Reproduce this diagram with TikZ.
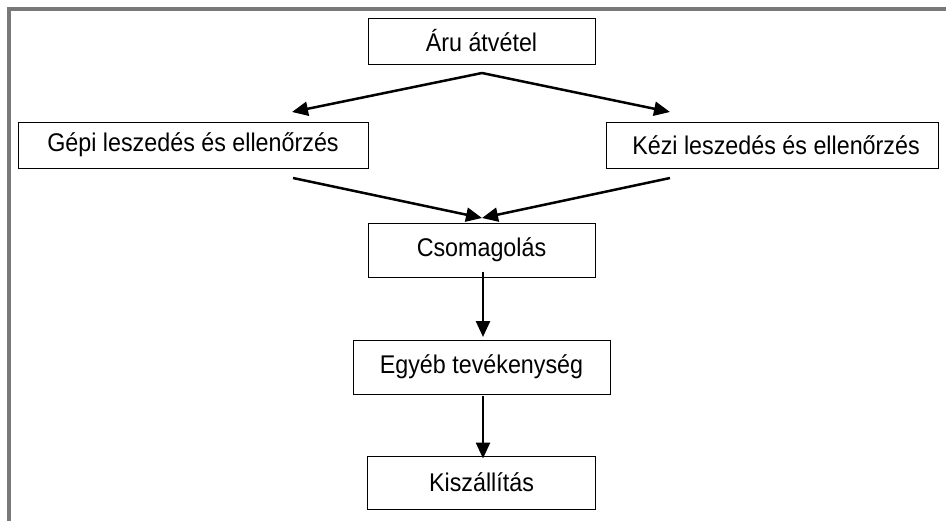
\documentclass[tikz,border=0pt]{standalone}
\usepackage{fontspec}
\usepackage{graphicx}
\setmainfont{Liberation Sans}
\usetikzlibrary{arrows.meta}
\newcommand\boxtxt[1]{\scalebox{0.91}[1]{#1}}
\begin{document}
\begin{tikzpicture}[x=1pt,y=-1pt,
  stepbox/.style={draw=black,line width=1pt,fill=white,inner sep=0pt,anchor=center,
    font=\fontsize{25.6}{30}\selectfont},
  flow/.style={line width=2.5pt,-{Triangle[length=16pt,width=14pt]}},
  frameline/.style={draw=gray!95!black,line width=4pt}]
\useasboundingbox (0,0) rectangle (946,520);
\fill[white] (0,0) rectangle (946,520);
\draw[frameline] (9,522) -- (9,9) -- (948,9);

\node[stepbox,minimum width=227pt,minimum height=46pt] (aru) at (481.5,41) {\boxtxt{Áru átvétel}};
\node[stepbox,minimum width=350pt,minimum height=46pt] (gepi) at (193,145) {\boxtxt{Gépi leszedés és ellenőrzés}\hspace{16pt}};
\node[stepbox,minimum width=332pt,minimum height=46pt] (kezi) at (772,145) {\hspace{8pt}\boxtxt{Kézi leszedés és ellenőrzés}};
\node[stepbox,minimum width=227pt,minimum height=54pt] (csom) at (481.5,250) {\boxtxt{Csomagolás}};
\node[stepbox,minimum width=257pt,minimum height=54pt] (egyeb) at (481.5,367) {\boxtxt{Egyéb tevékenység}};
\node[stepbox,minimum width=228pt,minimum height=53pt] (kisz) at (481.5,482.5) {\boxtxt{Kiszállítás}};

\coordinate (split) at (482,73);
\coordinate (gepiin) at (292,112);
\coordinate (keziin) at (670,112);
\coordinate (gepiout) at (293,178);
\coordinate (keziout) at (670,178);
\coordinate (csomin) at (482,218);

\draw[flow] (split) -- (gepiin);
\draw[flow] (split) -- (keziin);
\draw[flow] (gepiout) -- (csomin);
\draw[flow] (keziout) -- (csomin);
\draw[flow] ([yshift=6pt]csom.south -| 483,0) -- (483,337);
\draw[flow] (483,396) -- ([yshift=-3pt]kisz.north -| 483,0);
\end{tikzpicture}
\end{document}
